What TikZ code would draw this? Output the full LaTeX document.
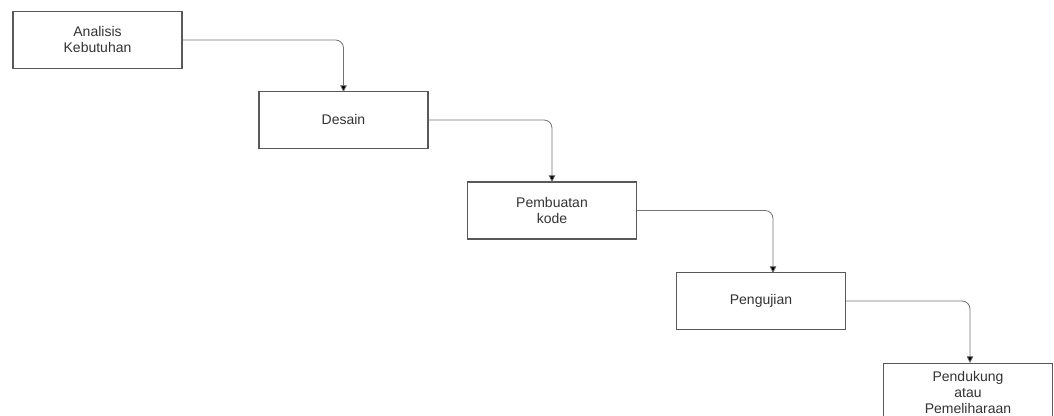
\documentclass[tikz,border=0pt]{standalone}
\usepackage{fontspec}
\setmainfont{Liberation Sans}
\usetikzlibrary{arrows.meta}
\begin{document}
\begin{tikzpicture}[x=0.75pt,y=-0.75pt,
  stepbox/.style={draw=black!65,line width=0.8pt,fill=white,inner sep=0pt,
    minimum width=126.75pt,minimum height=42.75pt,align=center,
    font=\fontsize{10.5pt}{12pt}\selectfont,text=black!80},
  link/.style={draw=black!55,line width=0.6pt,rounded corners=6pt,
    -{Triangle[length=5pt,width=5pt,fill=black]}}]
\useasboundingbox (0,0) rectangle (1054,416);
\clip (0,0) rectangle (1054,416);
\node[stepbox] (b1) at (97.5,40) {Analisis\\Kebutuhan};
\node[stepbox] (b2) at (343.5,120) {Desain};
\node[stepbox] (b3) at (552,210.5) {Pembuatan\\kode};
\node[stepbox] (b4) at (761,301) {Pengujian};
\node[stepbox,anchor=north] (b5) at (968,363) {Pendukung\\atau\\Pemeliharaan};
\coordinate (t2) at (343.5,92);
\coordinate (t3) at (552,182);
\coordinate (t4) at (773,273);
\coordinate (t5) at (970,363);
\draw[link] (b1.east) -| (t2);
\draw[link] (b2.east) -| (t3);
\draw[link] (b3.east) -| (t4);
\draw[link] (b4.east) -| (t5);
\end{tikzpicture}
\end{document}
